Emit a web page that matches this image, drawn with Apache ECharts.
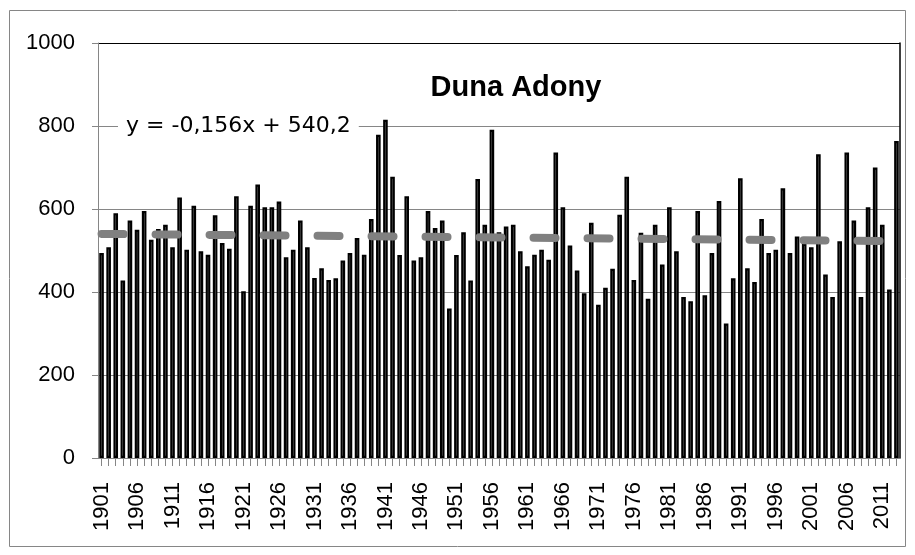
<!DOCTYPE html>
<html>
<head>
<meta charset="utf-8">
<title>Duna Adony</title>
<script src="https://cdn.jsdelivr.net/npm/echarts@6/dist/echarts.min.js"></script>
<style>
  html, body { margin: 0; padding: 0; background: #fff; }
  #chart-one { width: 915px; height: 555px; }
</style>
</head>
<body>
<div id="chart-one"></div>
<script>
// years 1901..2013
const firstYear = 1901;
const values = [
  494, 508, 590, 428, 572, 550, 595, 526, 552, 562,
  508, 628, 502, 608, 498, 490, 585, 518, 504, 631,
  402, 608, 659, 604, 604, 618, 484, 502, 572, 508,
  434, 457, 429, 433, 476, 494, 530, 490, 576, 779,
  815, 678, 489, 631, 476, 484, 595, 554, 572, 360,
  489, 544, 428, 672, 562, 791, 544, 558, 562, 498,
  462, 490, 502, 478, 736, 604, 512, 452, 397, 567,
  369, 410, 456, 586, 678, 429, 543, 384, 562, 466,
  604, 498, 388, 378, 595, 392, 494, 619, 324, 433,
  674, 457, 424, 576, 494, 502, 650, 494, 534, 516,
  508, 732, 442, 388, 522, 736, 572, 388, 604, 700,
  562, 406, 764
];
const years = values.map((v, i) => String(firstYear + i));
const yTicks = [0, 200, 400, 600, 800, 1000];
// linear trend end points (y = -0,156x + 540,2)
const trendEnds = [540.0, 522.6];
const chartTitle = 'Duna Adony';
const trendLabel = 'y = -0,156x + 540,2';

const trendData = years.map(() => null);
trendData[0] = trendEnds[0];
trendData[trendData.length - 1] = trendEnds[1];

const gray = '#868686';
const font = 'Liberation Sans';

var myChart = echarts.init(document.getElementById('chart-one'));
myChart.setOption({
    animation: false,
    backgroundColor: '#fff',
    grid: { left: 98, right: 15, top: 43, bottom: 97 },
    xAxis: {
        type: 'category',
        data: years,
        axisLine: { lineStyle: { color: gray, width: 1 } },
        axisTick: { show: true, interval: 0, alignWithLabel: true, length: 8, lineStyle: { color: gray } },
        axisLabel: {
            interval: 4,
            rotate: 90,
            margin: 24,
            color: '#000',
            fontFamily: font,
            fontSize: 22
        },
        splitLine: { show: false }
    },
    yAxis: [{
        type: 'value',
        min: yTicks[0],
        max: yTicks[yTicks.length - 1],
        interval: 200,
        axisLine: { show: true, lineStyle: { color: gray } },
        axisTick: { show: true, length: 6, lineStyle: { color: gray } },
        axisLabel: {
            margin: 23, color: '#000', fontFamily: font, fontSize: 22,
            formatter: v => String(v)
        },
        splitLine: {
            show: true,
            lineStyle: { color: [gray, gray, gray, gray, gray, '#000'], width: 1 }
        }
    }, {
        type: 'value',
        position: 'right',
        min: yTicks[0],
        max: yTicks[yTicks.length - 1],
        interval: 200,
        axisLine: { show: true, lineStyle: { color: '#000', width: 1.5 } },
        axisTick: { show: false },
        axisLabel: { show: false },
        splitLine: { show: false }
    }],
    series: [{
        name: 'Duna Adony',
        type: 'bar',
        data: values,
        barWidth: 4.6,
        itemStyle: { color: '#fff', borderColor: '#000', borderWidth: 2.2 },
        silent: true
    }, {
        name: 'trend',
        type: 'line',
        data: trendData,
        connectNulls: true,
        symbol: 'none',
        silent: true,
        z: 5,
        lineStyle: { color: '#808080', width: 8, type: [22, 32], cap: 'round' }
    }],
    graphic: [{
        type: 'rect',
        shape: { x: 9.5, y: 10.5, width: 896, height: 536 },
        style: { fill: 'none', stroke: gray, lineWidth: 1 },
        silent: true,
        z: -10
    }, {
        type: 'text',
        left: 118,
        top: 113,
        z: 20,
        style: {
            text: trendLabel,
            fill: '#000',
            font: '22px "DejaVu Sans"',
            backgroundColor: '#fff',
            padding: [2, 8, 2, 8]
        }
    }, {
        type: 'text',
        x: 516,
        y: 88,
        z: 20,
        style: {
            text: chartTitle,
            fill: '#000',
            font: 'bold 29px "Liberation Sans"',
            align: 'center',
            verticalAlign: 'middle'
        }
    }]
});
</script>
</body>
</html>
